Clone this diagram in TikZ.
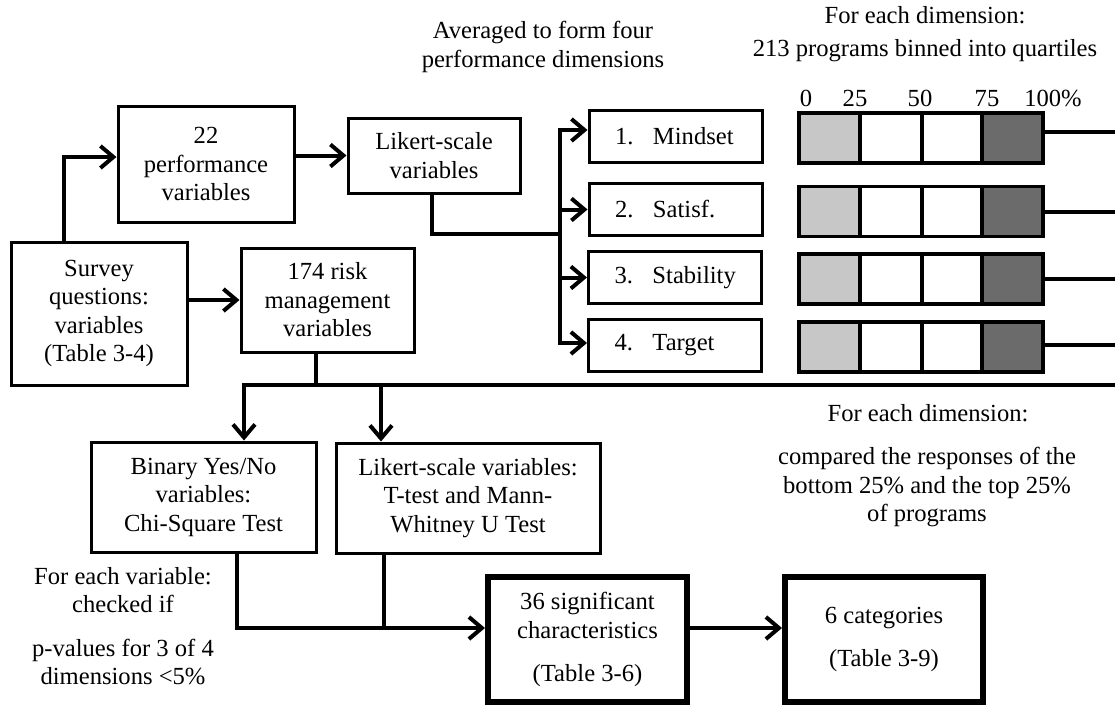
\documentclass[tikz,border=0pt]{standalone}
\usepackage{fontspec}
\setmainfont{Liberation Serif}
\usetikzlibrary{arrows.meta,calc}
\definecolor{lightq}{gray}{0.78}
\definecolor{darkq}{gray}{0.42}
\begin{document}
\begin{tikzpicture}[x=1pt,y=-1pt,
  every node/.style={font=\fontsize{24.6}{28.5}\selectfont},
  box/.style={draw,line width=3pt,inner sep=0pt,align=center},
  bigbox/.style={draw,line width=6pt,inner sep=0pt,align=center},
  dimbox/.style={draw,line width=3pt,inner xsep=26pt,inner ysep=0pt,text width=121pt,align=left,minimum height=52pt},
  cell/.style={draw,line width=3.5pt,minimum height=50pt,inner sep=0pt},
  conn/.style={line width=4pt,line cap=rect},
  arr/.style={line width=4pt,-{Straight Barb[length=13pt,width=22pt]}},
  lbl/.style={align=center,inner sep=0pt},
  tick/.style={anchor=base,inner sep=0pt}
]
\useasboundingbox[fill=white] (0,0) rectangle (1115,705);
\coordinate (redge) at (1115,0);

% boxes
\node[box,minimum width=176pt,minimum height=116pt] (perf) at (206,164) {22\\performance\\variables};
\node[box,minimum width=172pt,minimum height=75pt] (lik) at (434,155.5) {Likert-scale\\variables};
\node[box,minimum width=176pt,minimum height=143pt] (survey) at (99,313.5) {Survey\\questions:\\variables\\(Table 3-4)};
\node[box,minimum width=173pt,minimum height=104pt] (risk) at (327.5,300) {174 risk\\management\\variables};
\node[dimbox] (d1) at (675.5,136) {\makebox[38pt][l]{1.}Mindset};
\node[dimbox] (d2) at (675.5,209.5) {\makebox[38pt][l]{2.}Satisf.};
\node[dimbox] (d3) at (675,277.5) {\makebox[38pt][l]{3.}Stability};
\node[dimbox] (d4) at (675,345) {\makebox[38pt][l]{4.}Target};
\node[box,minimum width=225pt,minimum height=110pt] (binary) at (203.5,497) {Binary Yes/No\\variables:\\Chi-Square Test};
\node[box,minimum width=264pt,minimum height=110pt] (ltest) at (468,498) {Likert-scale variables:\\T-test and Mann-\\Whitney U Test};
\node[bigbox,minimum width=199pt,minimum height=125pt] (sig) at (587.5,639.5) {36 significant\\characteristics\\[15pt](Table 3-6)};
\node[bigbox,minimum width=198pt,minimum height=125pt] (cat) at (884,639.5) {6 categories\\[15pt](Table 3-9)};

% quartile bars
\foreach \r/\y in {1/138,2/211.5,3/279,4/347}{
  \node[cell,minimum width=61pt,fill=lightq] (q\r-a) at (829.5,\y) {};
  \node[cell,minimum width=62pt] (q\r-b) at (891,\y) {};
  \node[cell,minimum width=60pt] (q\r-c) at (952,\y) {};
  \node[cell,minimum width=61pt,fill=darkq] (q\r-d) at (1012.5,\y) {};
}
\foreach \r/\s in {1/6,2/0,3/0,4/2}{
  \path ([yshift=\s pt]q\r-d.east) coordinate (rl\r);
  \draw[conn] (rl\r) -- (rl\r -| redge);
}

% labels
\node[tick] (p0) at (806,106) {0};
\node[tick] (p25) at (855,106) {25};
\node[tick] (p50) at (920,106) {50};
\node[tick] (p75) at (987,106) {75};
\node[tick] (p100) at (1053,106) {100\%};
\node[lbl] (avg) at (543,47) {Averaged to form four\\performance dimensions};
\node[lbl] (fed1) at (925,34) {For each dimension:\\[5pt]213 programs binned into quartiles};
\node[lbl] (fed2) at (928,413) {For each dimension:};
\node[lbl] (cmp) at (927,487) {compared the responses of the\\bottom 25\% and the top 25\%\\of programs};
\node[lbl] (fev) at (123,590) {For each variable:\\checked if};
\node[lbl] (pv) at (123,662) {p-values for 3 of 4\\dimensions <5\%};

% connectors
\draw[arr] (survey.north -| 64,0) |- ([yshift=7pt]perf.west);
\draw[arr] (perf.east |- lik.west) -- (lik.west);
\draw[arr] (survey.east |- risk.west) -- (risk.west);
\coordinate (bus) at (560,234);
\draw[conn] (lik.south -| 432,0) |- (bus);
\coordinate (v1) at (560,130);
\coordinate (v4) at (560,343);
\draw[conn] (v1) -- (v4);
\draw[arr] (v1) -- (v1 -| d1.west);
\draw[arr] (d2.west -| bus) -- (d2.west);
\draw[arr] (d3.west -| bus) -- (d3.west);
\draw[arr] (v4) -- (v4 -| d4.west);

\coordinate (bl) at (244,385);
\coordinate (bm) at (381,385);
\draw[conn] (risk.south -| 316,0) -- (316,385);
\draw[conn] (bl) -- (bl -| redge);
\draw[arr] (bl) -- (bl |- binary.north);
\draw[arr] (bm) -- (bm |- ltest.north);
\coordinate (m1) at (237,628);
\coordinate (m2) at (384,628);
\draw[conn] (m1 |- binary.south) -- (m1) -- (m2);
\draw[conn] (m2 |- ltest.south) -- (m2);
\draw[arr] (m2) -- (m2 -| sig.west);
\draw[arr] (sig.east |- m2) -- (cat.west |- m2);
\end{tikzpicture}
\end{document}
